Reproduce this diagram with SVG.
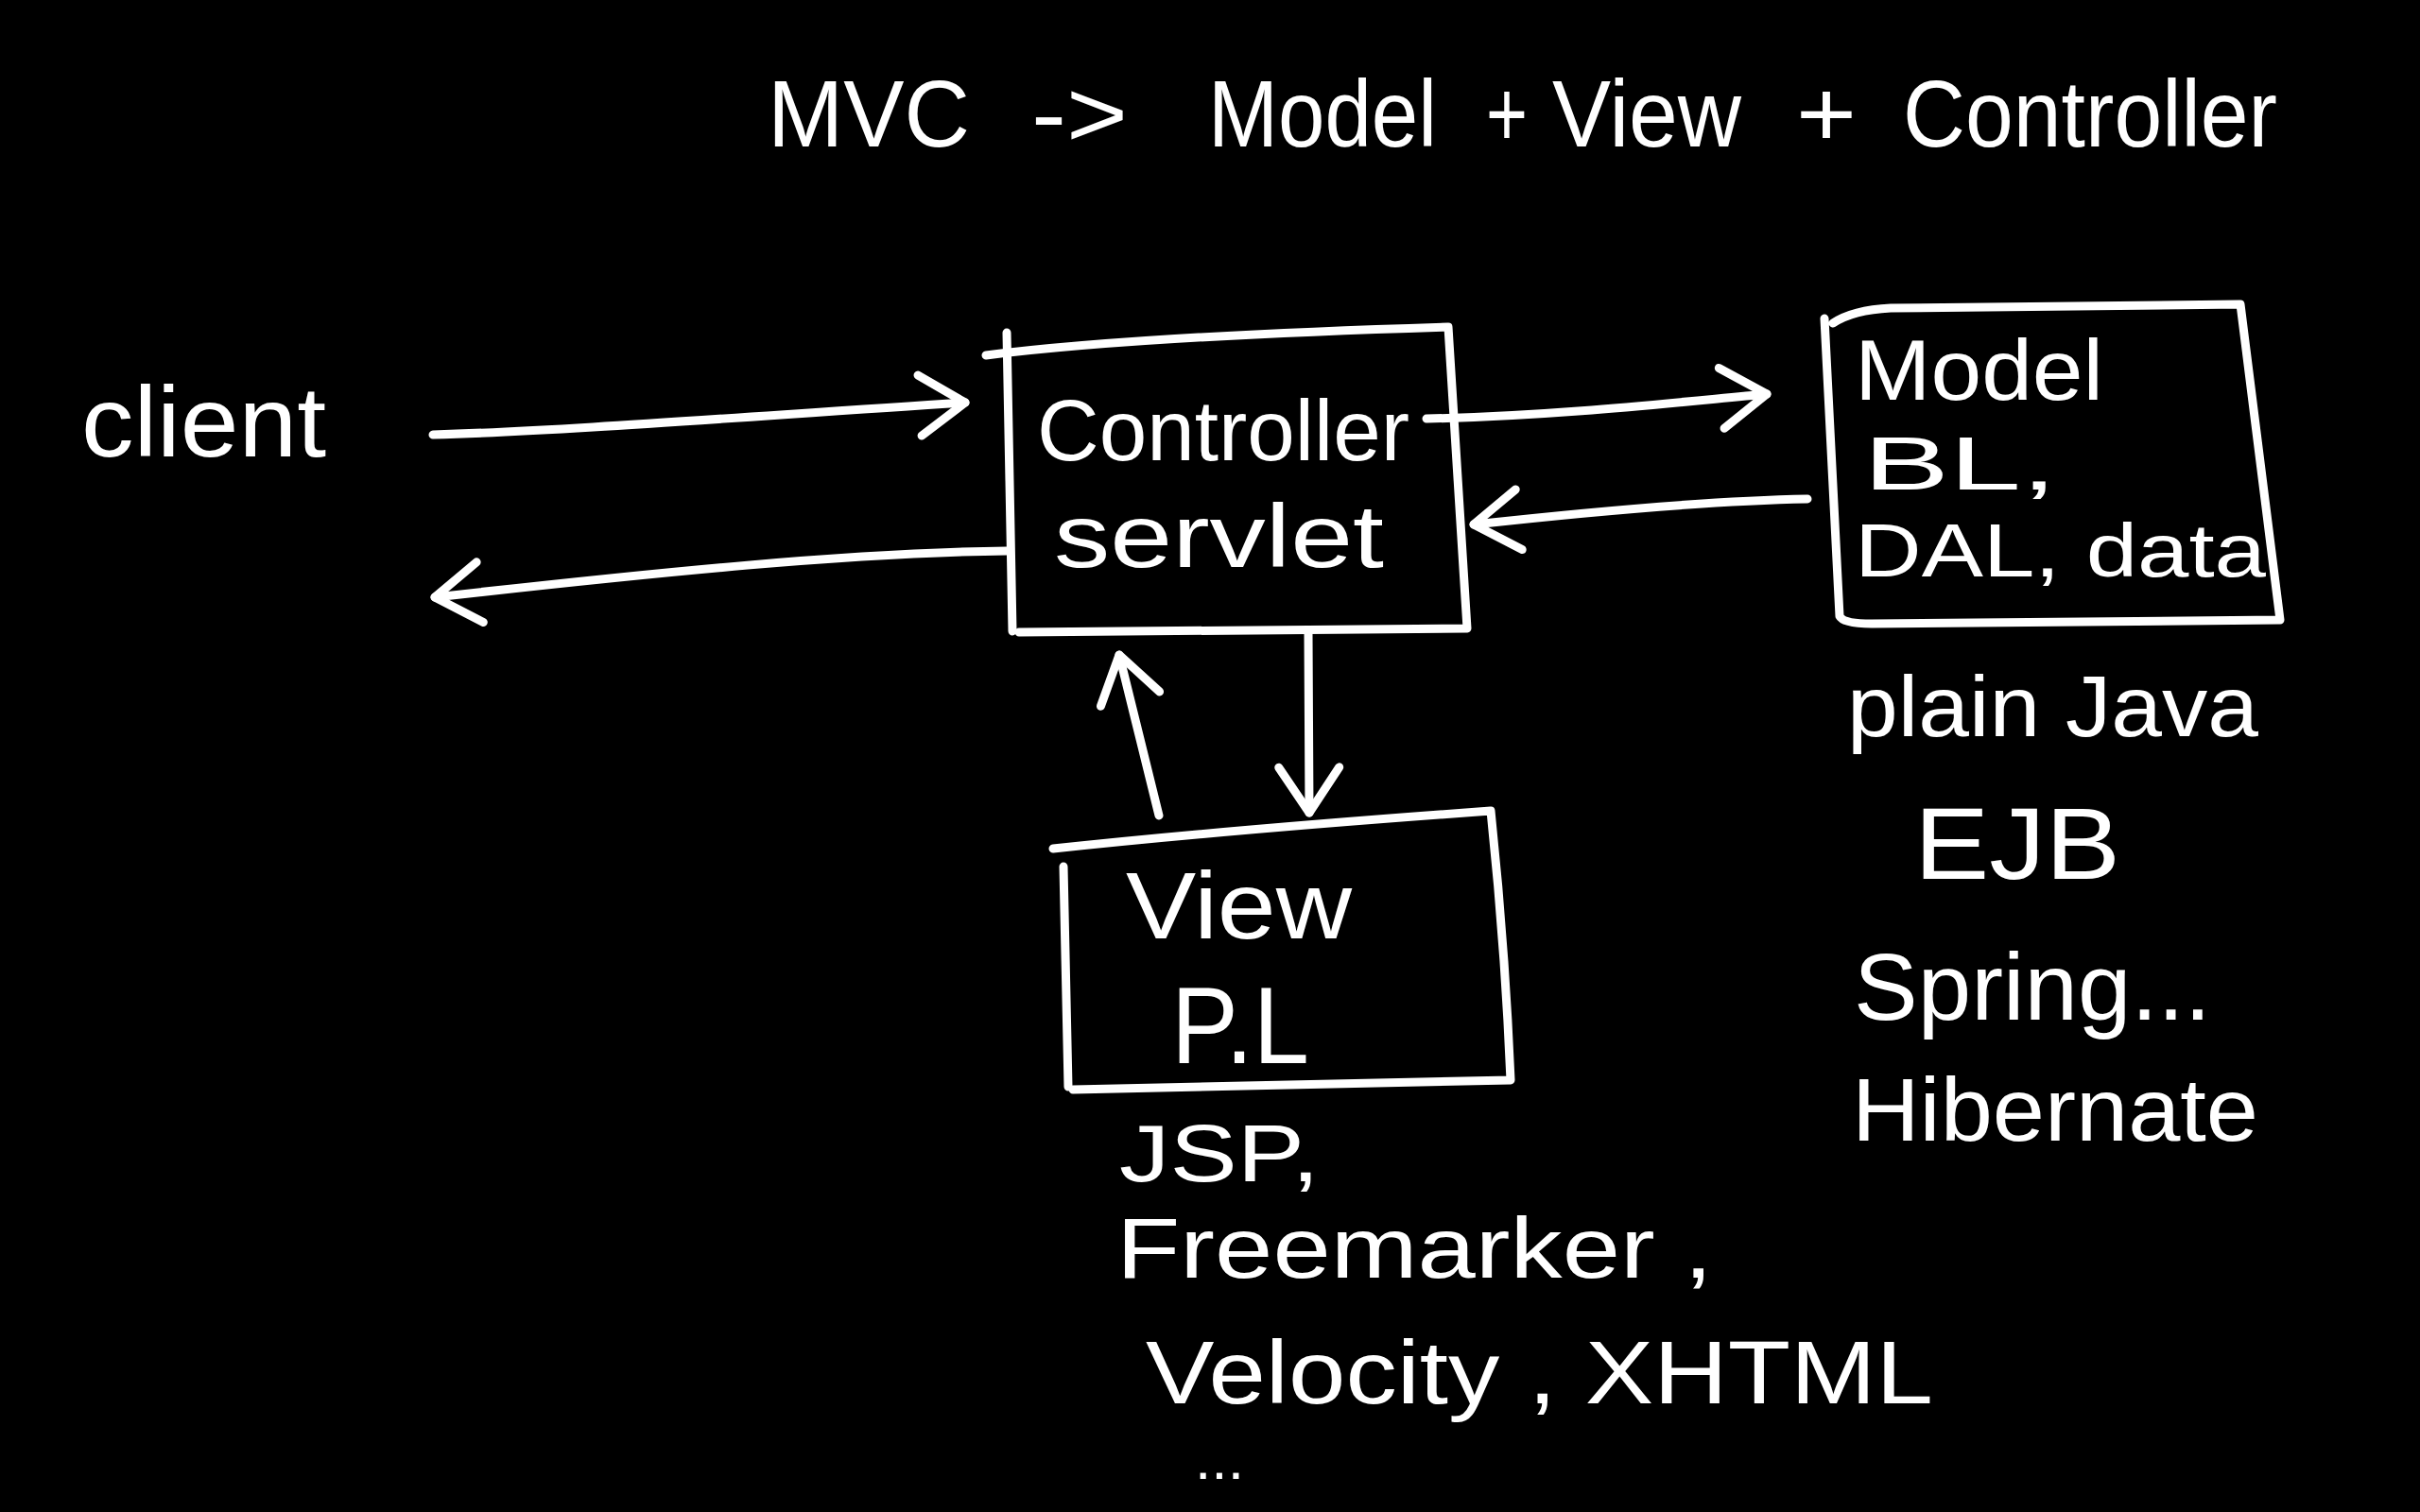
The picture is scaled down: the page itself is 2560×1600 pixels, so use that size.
<svg xmlns="http://www.w3.org/2000/svg" width="2560" height="1600" viewBox="0 0 2560 1600">
<style>
  .t { font-family: "Liberation Sans", "DejaVu Sans", sans-serif; fill: #ffffff; }
  .ln { fill: none; stroke: #ffffff; stroke-width: 9; stroke-linecap: round; stroke-linejoin: round; }
</style>
<defs>
  <marker id="head" markerUnits="userSpaceOnUse" viewBox="-60 -45 70 90" markerWidth="70" markerHeight="90" refX="0" refY="0" orient="auto" overflow="visible">
    <path d="M-48,-32 L0,0 L-48,32" fill="none" stroke="#ffffff" stroke-width="9" stroke-linecap="round" stroke-linejoin="round"/>
  </marker>
</defs>
<rect x="0" y="0" width="2560" height="1600" fill="#000000"/>

<g id="title">
  <text class="t" font-size="100" y="155"><tspan x="812" textLength="214" lengthAdjust="spacingAndGlyphs">MVC</tspan><tspan x="1091" textLength="102" lengthAdjust="spacingAndGlyphs">-&gt;</tspan><tspan x="1278" textLength="242" lengthAdjust="spacingAndGlyphs">Model</tspan><tspan x="1572" textLength="44" lengthAdjust="spacingAndGlyphs">+</tspan><tspan x="1642" textLength="200" lengthAdjust="spacingAndGlyphs">View</tspan><tspan x="1900" textLength="64" lengthAdjust="spacingAndGlyphs">+</tspan><tspan x="2013" textLength="396" lengthAdjust="spacingAndGlyphs">Controller</tspan></text>
</g>

<g id="node-client">
  <text class="t" x="86" y="483" font-size="105" textLength="259" lengthAdjust="spacingAndGlyphs">client</text>
</g>

<g id="node-controller">
  <path class="ln" d="M1043,376 Q1200,356 1532,346 L1552,665 L1078,669"/>
  <path class="ln" d="M1065,352 L1071,668"/>
  <text class="t" x="1097" y="487" font-size="90" textLength="394" lengthAdjust="spacingAndGlyphs">Controller</text>
  <text class="t" x="1115" y="600" font-size="95" textLength="349" lengthAdjust="spacingAndGlyphs">servlet</text>
</g>

<g id="node-model">
  <path class="ln" d="M1930,337 L1946,652 Q1950,660 1980,660 L2412,656 L2370,322 L2000,326 Q1960,328 1939,342"/>
  <text class="t" x="1962" y="423" font-size="90" textLength="263" lengthAdjust="spacingAndGlyphs">Model</text>
  <text class="t" x="1971" y="518" font-size="80" textLength="205" lengthAdjust="spacingAndGlyphs">BL,</text>
  <text class="t" x="1962" y="610" font-size="80" textLength="435" lengthAdjust="spacingAndGlyphs">DAL, data</text>
  <text class="t" x="1954" y="779" font-size="90" textLength="435" lengthAdjust="spacingAndGlyphs">plain Java</text>
  <text class="t" x="2025" y="930" font-size="108" textLength="218" lengthAdjust="spacingAndGlyphs">EJB</text>
  <text class="t" x="1961" y="1079" font-size="100" textLength="378" lengthAdjust="spacingAndGlyphs">Spring...</text>
  <text class="t" x="1959" y="1207" font-size="95" textLength="430" lengthAdjust="spacingAndGlyphs">Hibernate</text>
</g>

<g id="node-view">
  <path class="ln" d="M1114,898 Q1300,878 1577,858 Q1592,1000 1598,1143 L1135,1153"/>
  <path class="ln" d="M1125,917 L1130,1150"/>
  <text class="t" x="1191" y="993" font-size="100" textLength="239" lengthAdjust="spacingAndGlyphs">View</text>
  <text class="t" x="1239" y="1125" font-size="115" textLength="146" lengthAdjust="spacingAndGlyphs">P.L</text>
  <text class="t" x="1184" y="1250" font-size="85" textLength="212" lengthAdjust="spacingAndGlyphs">JSP,</text>
  <text class="t" x="1181" y="1352" font-size="90" textLength="631" lengthAdjust="spacingAndGlyphs">Freemarker ,</text>
  <text class="t" x="1212" y="1485" font-size="95" textLength="833" lengthAdjust="spacingAndGlyphs">Velocity , XHTML</text>
  <text class="t" x="1264" y="1565" font-size="60" textLength="52" lengthAdjust="spacingAndGlyphs">...</text>
</g>

<g id="connectors">
  <path class="ln" marker-end="url(#head)" d="M458,460 C600,456 800,440 1021,426"/>
  <path class="ln" marker-end="url(#head)" d="M1065,583 C900,585 700,605 460,632"/>
  <path class="ln" marker-end="url(#head)" d="M1509,443 C1650,440 1780,425 1869,417"/>
  <path class="ln" marker-end="url(#head)" d="M1912,528 C1800,530 1650,545 1559,555"/>
  <path class="ln" marker-end="url(#head)" d="M1384,670 L1385,860"/>
  <path class="ln" marker-end="url(#head)" d="M1226,863 L1184,693"/>
</g>
</svg>
